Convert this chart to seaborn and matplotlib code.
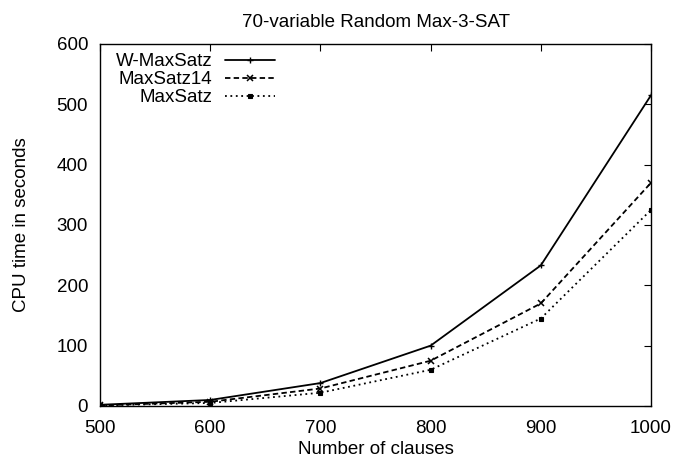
import pandas as pd
import matplotlib
matplotlib.use("Agg")
import matplotlib.pyplot as plt
import seaborn as sns

clauses = [500, 600, 700, 800, 900, 1000]
w_maxsatz = [2, 10, 38, 100, 233, 515]
maxsatz14 = [1, 7, 29, 75, 170, 370]
maxsatz = [1, 5, 22, 60, 145, 325]

series_names = ["W-MaxSatz", "MaxSatz14", "MaxSatz"]
x_ticks = [500, 600, 700, 800, 900, 1000]
y_ticks = [0, 100, 200, 300, 400, 500, 600]

df = pd.DataFrame({
    "clauses": clauses * 3,
    "cpu": w_maxsatz + maxsatz14 + maxsatz,
    "solver": [n for n in series_names for _ in clauses],
})

sns.set_style("white")
plt.rcParams["font.family"] = ["Liberation Sans", "DejaVu Sans"]
plt.rcParams["text.color"] = "black"
plt.rcParams["axes.labelcolor"] = "black"
fs = 13.5

fig = plt.figure(figsize=(6.77, 4.66), dpi=100)
ax = fig.add_axes([100 / 677, 1 - 406 / 466, 551 / 677, 362 / 466])

styles = {
    "W-MaxSatz": dict(ls="-", marker="+", ms=5, mew=1.0),
    "MaxSatz14": dict(ls=(0, (3, 1.8)), marker="x", ms=4.5, mew=1.1),
    "MaxSatz": dict(ls=(0, (1, 2)), marker="s", ms=3.5, mew=0.8),
}
for name in series_names:
    sub = df[df["solver"] == name]
    st = styles[name]
    sns.lineplot(data=sub, x="clauses", y="cpu", ax=ax, color="black", lw=1.3,
                 linestyle=st["ls"], marker=st["marker"], markersize=st["ms"],
                 markeredgewidth=st["mew"], markeredgecolor="black",
                 markerfacecolor="black", label=name)

ax.set_xlim(500, 1000)
ax.set_ylim(0, 600)
ax.set_xticks(x_ticks)
ax.set_yticks(y_ticks)
ax.tick_params(direction="in", length=5, width=0.8, top=True, right=True,
               labelsize=fs, colors="black")
ax.tick_params(axis="y", pad=8.5)
ax.tick_params(axis="x", pad=10)
for s in ax.spines.values():
    s.set_color("black")
    s.set_linewidth(1.0)
    s.set_visible(True)

ax.set_xlabel("Number of clauses", fontsize=fs, labelpad=3, color="black")
ax.set_ylabel("CPU time in seconds", fontsize=fs, labelpad=19, color="black")
ax.set_title("70-variable Random Max-3-SAT", fontsize=fs, pad=12, color="black")

leg = ax.legend(loc="upper left", frameon=False, markerfirst=False,
                fontsize=fs, handlelength=2.67, handletextpad=0.64,
                labelspacing=0.05, borderaxespad=0.0, borderpad=0.0,
                bbox_to_anchor=(16 / 551, 1 - 9 / 362))
# right-align the labels against the line samples
for col in leg._legend_box._children[1]._children:
    col.align = "right"
for t in leg.get_texts():
    t.set_color("black")

fig.savefig("out.png", dpi=100)
